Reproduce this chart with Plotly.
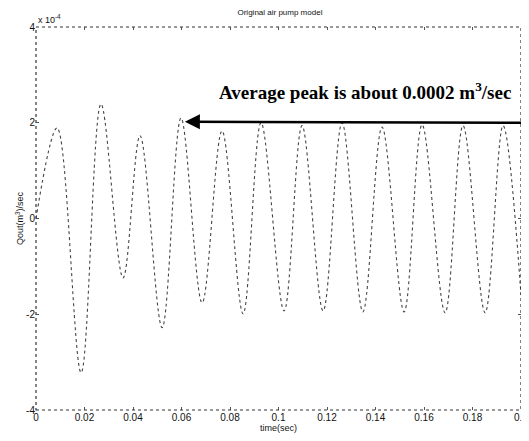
import plotly.graph_objects as go

# Extrema of the flow signal (time in s, Qout in 1e-4 m^3/s)
time_s = [0.0, 0.0087, 0.0186, 0.0268, 0.0359, 0.0429, 0.0520, 0.0598, 0.0685,
          0.0767, 0.0854, 0.0928, 0.1023, 0.1097, 0.1184, 0.1262, 0.1348,
          0.1427, 0.1518, 0.1592, 0.1687, 0.1761, 0.1852, 0.1926, 0.2]
q_out = [0.0, 1.89, -3.22, 2.39, -1.24, 1.73, -2.28, 2.10, -1.76,
         1.83, -1.99, 2.00, -1.93, 1.94, -1.93, 2.00, -1.95,
         1.91, -1.95, 1.96, -1.97, 1.94, -1.97, 1.94, -1.6]

x_ticks = [0, 0.02, 0.04, 0.06, 0.08, 0.1, 0.12, 0.14, 0.16, 0.18, 0.2]
x_tick_labels = ["0", "0.02", "0.04", "0.06", "0.08", "0.1", "0.12", "0.14", "0.16", "0.18", "0.2"]
y_ticks = [-4, -2, 0, 2, 4]
y_tick_labels = ["-4", "-2", "0", "2", "4"]

arrow_head = (0.0614, 2.02)
arrow_tail = (0.2034, 2.0)

fig = go.Figure()
fig.add_trace(go.Scatter(
    x=time_s, y=q_out, mode="lines",
    line=dict(color="#444444", width=1.1, dash="dot", shape="spline", smoothing=1.0),
    showlegend=False, hoverinfo="skip",
))

tick_font = dict(family="Arial, Liberation Sans, sans-serif", size=10, color="#111")
title_font = dict(family="Arial, Liberation Sans, sans-serif", size=9, color="#111")
fig.update_xaxes(range=[0, 0.2], tickvals=x_ticks, ticktext=x_tick_labels,
                 showgrid=False, zeroline=False, showline=False, automargin=False,
                 ticks="inside", ticklen=3, tickcolor="#555", mirror="ticks",
                 tickfont=tick_font,
                 title=dict(text="time(sec)", font=title_font, standoff=1))
fig.update_yaxes(range=[-4, 4], tickvals=y_ticks, ticktext=y_tick_labels,
                 showgrid=False, zeroline=False, showline=False, automargin=False,
                 ticks="inside", ticklen=3, tickcolor="#555", mirror="ticks",
                 tickfont=tick_font,
                 title=dict(text="Qout(m<sup>3</sup>)/sec", font=title_font, standoff=0))

# dotted frame
fig.add_shape(type="rect", xref="paper", yref="paper", x0=0, y0=0, x1=1, y1=1,
              line=dict(color="#333", width=1.2, dash="dot"))

fig.add_annotation(x=0, y=1, xref="paper", yref="paper", xanchor="left", yanchor="bottom",
                   text="x 10<sup>-4</sup>", showarrow=False,
                   font=dict(family="Arial, Liberation Sans, sans-serif", size=9, color="#111"))

fig.add_annotation(x=0.373, y=2.67, xref="paper", yref="y", xanchor="left", yanchor="middle",
                   text="<b>Average peak is about 0.0002 m<sup>3</sup>/sec</b>", showarrow=False,
                   font=dict(family="Liberation Serif, Times New Roman, serif", size=19, color="#000"))

fig.add_annotation(x=arrow_head[0], y=arrow_head[1], xref="x", yref="y",
                   ax=arrow_tail[0], ay=arrow_tail[1], axref="x", ayref="y",
                   text="", showarrow=True, arrowhead=2, arrowsize=1.2, arrowwidth=2.5,
                   arrowcolor="#000")

# page body has an 8px default margin, so the figure is sized to fit the window
fig.update_layout(
    width=521, height=433,
    margin=dict(l=28, r=8, t=19, b=31),
    paper_bgcolor="white", plot_bgcolor="white",
    title=dict(text="Original air pump model", x=0.522, xanchor="center", y=0.99, yanchor="middle",
               font=dict(family="Arial, Liberation Sans, sans-serif", size=8, color="#111")),
)

fig.write_html("out.html")
